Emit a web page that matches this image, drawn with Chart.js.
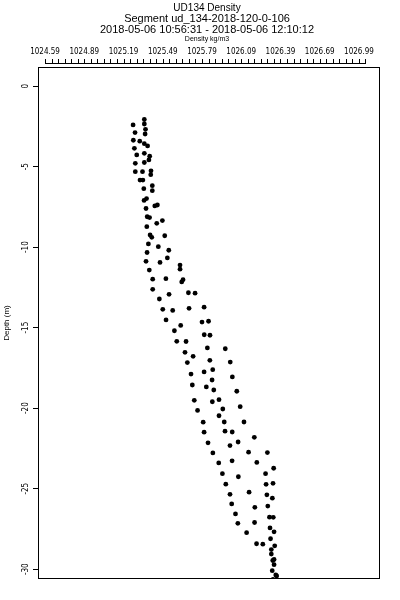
<!DOCTYPE html>
<html>
<head>
<meta charset="utf-8">
<script src="https://cdn.jsdelivr.net/npm/chart.js@4.4.0/dist/chart.umd.min.js"></script>
<style>
  html, body { margin: 0; padding: 0; background: #fff; }
</style>
</head>
<body>
<canvas id="densityChart" width="400" height="600"></canvas>
<script>
var titleLines = ['UD134 Density', 'Segment ud_134-2018-120-0-106', '2018-05-06 10:56:31 - 2018-05-06 12:10:12'];
var titleSizes = [10, 11, 11];
var xAxisTitle = 'Density kg/m3';
var yAxisTitle = 'Depth (m)';

var xTickValues = [1024.59, 1024.89, 1025.19, 1025.49, 1025.79, 1026.09, 1026.39, 1026.69, 1026.99];
var xMinorStep = 0.05;
var xMinorCount = 50;
var yTickValues = [0, -5, -10, -15, -20, -25, -30];

var density = [
  1025.349,1025.349,1025.358,1025.355,1025.263,1025.278,1025.265,1025.314,1025.349,1025.374,
  1025.273,1025.291,1025.349,1025.390,1025.384,1025.280,1025.349,1025.280,1025.335,1025.400,
  1025.398,1025.316,1025.338,1025.345,1025.410,1025.410,1025.366,1025.347,1025.362,1025.429,
  1025.449,1025.371,1025.389,1025.368,1025.444,1025.487,1025.393,1025.406,1025.505,1025.380,
  1025.456,1025.536,1025.370,1025.525,1025.362,1025.469,1025.622,1025.622,1025.387,1025.413,
  1025.514,1025.645,1025.635,1025.413,1025.538,1025.686,1025.737,1025.464,1025.490,1025.566,
  1025.691,1025.806,1025.515,1025.627,1025.790,1025.840,1025.579,1025.597,1025.668,1025.807,
  1025.851,1025.660,1025.831,1025.968,1025.722,1025.678,1025.850,1026.006,1025.706,1025.806,
  1025.872,1026.022,1025.716,1025.823,1025.867,1025.880,1026.056,1025.731,1025.869,1025.920,
  1025.949,1026.082,1025.756,1025.920,1025.799,1025.960,1026.111,1025.806,1025.966,1026.021,
  1026.190,1025.836,1026.004,1026.066,1025.873,1026.146,1026.290,1025.918,1026.020,1026.209,
  1025.946,1026.068,1026.276,1026.338,1025.972,1026.280,1026.333,1026.004,1026.150,1026.286,
  1026.328,1026.017,1026.194,1026.293,1026.046,1026.306,1026.335,1026.064,1026.192,1026.310,
  1026.341,1026.131,1026.314,1026.207,1026.255,1026.346,1026.320,1026.320,1026.341,1026.331,
  1026.341,1026.327,1026.354,1026.361,1026.333
];
var depth = [
  -2.07,-2.35,-2.68,-2.97,-2.41,-2.88,-3.36,-3.42,-3.57,-3.71,
  -3.86,-4.27,-4.17,-4.35,-4.58,-4.79,-4.74,-5.31,-5.31,-5.26,
  -5.50,-5.83,-5.83,-6.37,-6.18,-6.49,-6.98,-7.10,-7.60,-7.44,
  -7.38,-8.11,-8.16,-8.73,-8.52,-8.35,-9.24,-9.39,-9.29,-9.80,
  -9.97,-10.19,-10.33,-10.67,-10.88,-10.95,-11.11,-11.37,-11.42,-11.99,
  -11.96,-12.02,-12.16,-12.62,-12.93,-12.83,-12.86,-13.22,-13.86,-13.93,
  -13.80,-13.73,-14.52,-14.86,-14.65,-14.60,-15.19,-15.85,-15.86,-15.44,
  -15.47,-16.53,-16.26,-16.31,-16.78,-17.17,-17.03,-17.14,-17.88,-17.75,
  -17.61,-18.06,-18.56,-18.68,-18.25,-18.87,-18.95,-19.51,-19.60,-19.47,
  -20.05,-19.91,-20.14,-20.47,-20.87,-20.86,-20.86,-21.49,-21.43,-21.48,
  -21.81,-22.15,-22.32,-22.10,-22.78,-22.73,-22.76,-23.40,-23.27,-23.37,
  -24.07,-24.26,-24.07,-23.73,-24.72,-24.73,-24.67,-25.35,-25.22,-25.38,
  -25.59,-25.95,-26.16,-26.08,-26.57,-26.77,-26.78,-27.15,-27.10,-27.44,
  -27.68,-27.73,-28.11,-28.42,-28.45,-28.55,-28.78,-29.06,-29.40,-29.46,
  -29.72,-30.09,-30.36,-30.42,-30.64
];

var tickFont = '"Liberation Sans Narrow", "DejaVu Sans Condensed", sans-serif';
var textFont = '"Liberation Sans", Arial, sans-serif';

var points = density.map(function(d, i) { return { x: d, y: depth[i] }; });

// frame, top tick strip and the title block
var decorPlugin = {
  id: 'decor',
  afterDraw: function(chart) {
    var ctx = chart.ctx, area = chart.chartArea, xs = chart.scales.x;
    ctx.save();
    ctx.strokeStyle = '#000';
    ctx.lineWidth = 1;
    ctx.strokeRect(Math.round(area.left) + 0.5, Math.round(area.top) + 0.5,
      Math.round(area.right - area.left) - 1, Math.round(area.bottom - area.top) - 1);

    // minor ticks above the box
    var x0 = xs.getPixelForValue(xTickValues[0]);
    var x1 = xs.getPixelForValue(xTickValues[0] + xMinorStep * (xMinorCount - 1));
    ctx.beginPath();
    ctx.moveTo(Math.round(x0), 63.5);
    ctx.lineTo(Math.round(x1) + 1, 63.5);
    for (var k = 0; k < xMinorCount; k++) {
      var px = Math.round(xs.getPixelForValue(xTickValues[0] + xMinorStep * k)) + 0.5;
      ctx.moveTo(px, 59);
      ctx.lineTo(px, 64);
    }
    ctx.stroke();

    ctx.fillStyle = '#000';
    ctx.textAlign = 'center';
    ctx.textBaseline = 'middle';
    var cx = (area.left + area.right) / 2 - 2;
    var ys = [8, 19, 30];
    for (var i = 0; i < titleLines.length; i++) {
      ctx.font = titleSizes[i] + 'px ' + textFont;
      ctx.fillText(titleLines[i], cx, ys[i]);
    }
    ctx.font = '7px ' + textFont;
    ctx.fillText(xAxisTitle, cx, 39.5);
    ctx.restore();
  }
};

var ctx = document.getElementById('densityChart');
var densityChart = new Chart(ctx, {
  type: 'scatter',
  data: {
    datasets: [{
      data: points,
      backgroundColor: '#000',
      borderColor: '#000',
      borderWidth: 0,
      pointRadius: 2.4,
      pointHoverRadius: 2.4
    }]
  },
  options: {
    responsive: false,
    animation: false,
    devicePixelRatio: 1,
    layout: { padding: { top: 0, left: 0, right: 20, bottom: 21 } },
    plugins: { legend: { display: false }, tooltip: { enabled: false }, title: { display: false } },
    scales: {
      x: {
        type: 'linear',
        position: 'top',
        min: 1024.536,
        max: 1027.151,
        afterFit: function(s) { s.height = 67; },
        afterBuildTicks: function(s) { s.ticks = xTickValues.map(function(v) { return { value: v }; }); },
        grid: { display: false, drawTicks: false },
        border: { display: false },
        ticks: {
          color: '#000',
          padding: 10,
          autoSkip: false,
          maxRotation: 0,
          font: { family: tickFont, size: 8 },
          callback: function(v) { return Number(v).toFixed(2); }
        }
      },
      y: {
        type: 'linear',
        position: 'left',
        min: -30.61,
        max: 1.19,
        afterFit: function(s) { s.width = 38; },
        afterBuildTicks: function(s) { s.ticks = yTickValues.map(function(v) { return { value: v }; }); },
        grid: { display: true, drawOnChartArea: false, drawTicks: true, tickLength: 5, color: '#000', lineWidth: 1 },
        border: { display: false },
        ticks: {
          color: '#000',
          padding: 1,
          autoSkip: false,
          minRotation: 90,
          maxRotation: 90,
          crossAlign: 'center',
          font: { family: tickFont, size: 8 }
        },
        title: {
          display: true,
          text: yAxisTitle,
          color: '#000',
          padding: { top: 2, bottom: 0 },
          font: { family: textFont, size: 8 }
        }
      }
    }
  },
  plugins: [decorPlugin]
});
</script>
</body>
</html>
